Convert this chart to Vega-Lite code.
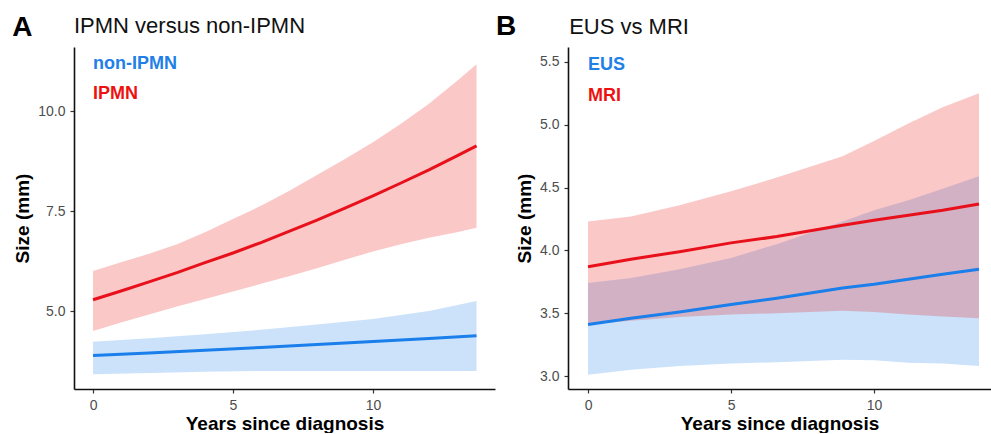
{
  "$schema": "https://vega.github.io/schema/vega-lite/v6.json",
  "autosize": {"type": "pad"},
  "padding": {"left": 12, "top": 13, "right": 0, "bottom": 0},
  "background": "white",
  "config": {
    "view": {"stroke": null},
    "font": "Liberation Sans",
    "axis": {
      "grid": false,
      "domainColor": "#111111",
      "domainWidth": 1.6,
      "tickColor": "#333333",
      "tickWidth": 1.2,
      "tickSize": 4,
      "labelColor": "#4D4D4D",
      "labelFont": "Liberation Sans",
      "labelFontSize": 14,
      "titleFont": "Liberation Sans",
      "titleFontSize": 19,
      "titleFontWeight": "bold",
      "titleColor": "#000000"
    },
    "axisX": {"labelPadding": 5, "titlePadding": 2},
    "axisY": {"labelPadding": 5, "titlePadding": 5}
  },
  "datasets": {
    "curves": [
      {"panel": "A", "group": "non-IPMN", "x": 0, "y": 3.89, "lo": 3.42, "hi": 4.23},
      {"panel": "A", "group": "non-IPMN", "x": 2, "y": 3.95, "lo": 3.45, "hi": 4.32},
      {"panel": "A", "group": "non-IPMN", "x": 4, "y": 4.02, "lo": 3.48, "hi": 4.42},
      {"panel": "A", "group": "non-IPMN", "x": 6, "y": 4.09, "lo": 3.5, "hi": 4.53},
      {"panel": "A", "group": "non-IPMN", "x": 8, "y": 4.16, "lo": 3.5, "hi": 4.66},
      {"panel": "A", "group": "non-IPMN", "x": 10, "y": 4.24, "lo": 3.5, "hi": 4.8},
      {"panel": "A", "group": "non-IPMN", "x": 12, "y": 4.31, "lo": 3.5, "hi": 5.0},
      {"panel": "A", "group": "non-IPMN", "x": 13.7, "y": 4.38, "lo": 3.5, "hi": 5.25},
      {"panel": "A", "group": "IPMN", "x": 0, "y": 5.28, "lo": 4.5, "hi": 6.0},
      {"panel": "A", "group": "IPMN", "x": 1, "y": 5.5, "lo": 4.71, "hi": 6.22},
      {"panel": "A", "group": "IPMN", "x": 2, "y": 5.73, "lo": 4.91, "hi": 6.43},
      {"panel": "A", "group": "IPMN", "x": 3, "y": 5.96, "lo": 5.11, "hi": 6.67},
      {"panel": "A", "group": "IPMN", "x": 4, "y": 6.21, "lo": 5.3, "hi": 6.97},
      {"panel": "A", "group": "IPMN", "x": 5, "y": 6.45, "lo": 5.49, "hi": 7.3},
      {"panel": "A", "group": "IPMN", "x": 6, "y": 6.71, "lo": 5.68, "hi": 7.63},
      {"panel": "A", "group": "IPMN", "x": 7, "y": 6.99, "lo": 5.87, "hi": 8.0},
      {"panel": "A", "group": "IPMN", "x": 8, "y": 7.27, "lo": 6.07, "hi": 8.4},
      {"panel": "A", "group": "IPMN", "x": 9, "y": 7.57, "lo": 6.28, "hi": 8.8},
      {"panel": "A", "group": "IPMN", "x": 10, "y": 7.88, "lo": 6.49, "hi": 9.22},
      {"panel": "A", "group": "IPMN", "x": 11, "y": 8.2, "lo": 6.67, "hi": 9.68},
      {"panel": "A", "group": "IPMN", "x": 12, "y": 8.53, "lo": 6.83, "hi": 10.18},
      {"panel": "A", "group": "IPMN", "x": 13, "y": 8.88, "lo": 6.97, "hi": 10.75},
      {"panel": "A", "group": "IPMN", "x": 13.7, "y": 9.13, "lo": 7.08, "hi": 11.17},
      {"panel": "B", "group": "EUS", "x": 0, "y": 3.41, "lo": 3.01, "hi": 3.74},
      {"panel": "B", "group": "EUS", "x": 1.5, "y": 3.46, "lo": 3.05, "hi": 3.78},
      {"panel": "B", "group": "EUS", "x": 3.2, "y": 3.51, "lo": 3.08, "hi": 3.85},
      {"panel": "B", "group": "EUS", "x": 5, "y": 3.57, "lo": 3.1, "hi": 3.94},
      {"panel": "B", "group": "EUS", "x": 6.6, "y": 3.62, "lo": 3.11, "hi": 4.05},
      {"panel": "B", "group": "EUS", "x": 8.9, "y": 3.7, "lo": 3.13, "hi": 4.23},
      {"panel": "B", "group": "EUS", "x": 10, "y": 3.73, "lo": 3.125, "hi": 4.32},
      {"panel": "B", "group": "EUS", "x": 11.2, "y": 3.77, "lo": 3.105, "hi": 4.4},
      {"panel": "B", "group": "EUS", "x": 12.4, "y": 3.81, "lo": 3.1, "hi": 4.49},
      {"panel": "B", "group": "EUS", "x": 13.67, "y": 3.85, "lo": 3.08, "hi": 4.59},
      {"panel": "B", "group": "MRI", "x": 0, "y": 3.87, "lo": 3.41, "hi": 4.23},
      {"panel": "B", "group": "MRI", "x": 1.5, "y": 3.93, "lo": 3.44, "hi": 4.27},
      {"panel": "B", "group": "MRI", "x": 3.2, "y": 3.99, "lo": 3.47, "hi": 4.36},
      {"panel": "B", "group": "MRI", "x": 5, "y": 4.06, "lo": 3.49, "hi": 4.47},
      {"panel": "B", "group": "MRI", "x": 6.6, "y": 4.11, "lo": 3.5, "hi": 4.58},
      {"panel": "B", "group": "MRI", "x": 8.9, "y": 4.2, "lo": 3.52, "hi": 4.75},
      {"panel": "B", "group": "MRI", "x": 10, "y": 4.24, "lo": 3.51, "hi": 4.87},
      {"panel": "B", "group": "MRI", "x": 11.2, "y": 4.28, "lo": 3.49, "hi": 5.01},
      {"panel": "B", "group": "MRI", "x": 12.4, "y": 4.32, "lo": 3.475, "hi": 5.14},
      {"panel": "B", "group": "MRI", "x": 13.67, "y": 4.37, "lo": 3.46, "hi": 5.25}
    ],
    "labels": [
      {"panel": "A", "kind": "legend", "group": "non-IPMN", "text": "non-IPMN", "x": 0, "y": 11.04},
      {"panel": "A", "kind": "legend", "group": "IPMN", "text": "IPMN", "x": 0, "y": 10.29},
      {"panel": "A", "kind": "letter", "group": "", "text": "A", "x": -2.89, "y": 11.875},
      {"panel": "A", "kind": "title", "group": "", "text": "IPMN versus non-IPMN", "x": -0.68, "y": 11.95},
      {"panel": "B", "kind": "legend", "group": "EUS", "text": "EUS", "x": 0, "y": 5.439},
      {"panel": "B", "kind": "legend", "group": "MRI", "text": "MRI", "x": 0, "y": 5.188},
      {"panel": "B", "kind": "letter", "group": "", "text": "B", "x": -3.22, "y": 5.714},
      {"panel": "B", "kind": "title", "group": "", "text": "EUS vs MRI", "x": -0.66, "y": 5.722}
    ]
  },
  "spacing": 73,
  "bounds": "flush",
  "hconcat": [
    {
      "width": 421,
      "height": 342,
      "encoding": {
        "x": {"field": "x", "type": "quantitative", "title": "Years since diagnosis",
              "scale": {"domain": [-0.68, 14.36], "nice": false, "zero": false},
              "axis": {"values": [0, 5, 10]}},
        "y": {"field": "y", "type": "quantitative", "title": "Size (mm)",
              "scale": {"domain": [3.05, 11.6], "nice": false, "zero": false},
              "axis": {"values": [5, 7.5, 10], "format": ".1f"}}
      },
      "layer": [
        {
          "data": {"name": "curves"},
          "transform": [{"filter": "datum.panel == 'A'"}],
          "mark": {"type": "area", "opacity": 0.23},
          "encoding": {
            "y": {"field": "lo", "type": "quantitative", "title": "Size (mm)",
                  "scale": {"domain": [3.05, 11.6], "nice": false, "zero": false},
                  "axis": {"values": [5, 7.5, 10], "format": ".1f"}},
            "y2": {"field": "hi"},
            "fill": {"field": "group", "type": "nominal", "legend": null,
                     "scale": {"domain": ["non-IPMN", "IPMN", "EUS", "MRI"], "range": ["#1F80E8", "#EE1111", "#1F80E8", "#EE1111"]}}
          }
        },
        {
          "data": {"name": "curves"},
          "transform": [{"filter": "datum.panel == 'A'"}],
          "mark": {"type": "line", "strokeWidth": 3},
          "encoding": {
            "stroke": {"field": "group", "type": "nominal", "legend": null,
                       "scale": {"domain": ["non-IPMN", "IPMN", "EUS", "MRI"], "range": ["#1A7FEA", "#E8101A", "#1A7FEA", "#E8101A"]}}
          }
        },
        {
          "data": {"name": "labels"},
          "transform": [{"filter": "datum.panel == 'A' && datum.kind == 'legend'"}],
          "mark": {"type": "text", "align": "left", "baseline": "alphabetic", "fontSize": 18, "fontWeight": "bold"},
          "encoding": {
            "text": {"field": "text"},
            "fill": {"field": "group", "type": "nominal", "legend": null,
                     "scale": {"domain": ["non-IPMN", "IPMN", "EUS", "MRI"], "range": ["#1F80E8", "#EE1111", "#1F80E8", "#EE1111"]}}
          }
        },
        {
          "data": {"name": "labels"},
          "transform": [{"filter": "datum.panel == 'A' && datum.kind == 'letter'"}],
          "mark": {"type": "text", "align": "left", "baseline": "alphabetic", "fontSize": 28, "fontWeight": "bold", "color": "#000000"},
          "encoding": {"text": {"field": "text"}}
        },
        {
          "data": {"name": "labels"},
          "transform": [{"filter": "datum.panel == 'A' && datum.kind == 'title'"}],
          "mark": {"type": "text", "align": "left", "baseline": "alphabetic", "fontSize": 22, "color": "#111111"},
          "encoding": {"text": {"field": "text"}}
        }
      ]
    },
    {
      "width": 423,
      "height": 342,
      "encoding": {
        "x": {"field": "x", "type": "quantitative", "title": "Years since diagnosis",
              "scale": {"domain": [-0.7, 14.09], "nice": false, "zero": false},
              "axis": {"values": [0, 5, 10]}},
        "y": {"field": "y", "type": "quantitative", "title": "Size (mm)",
              "scale": {"domain": [2.897, 5.619], "nice": false, "zero": false},
              "axis": {"values": [3, 3.5, 4, 4.5, 5, 5.5], "format": ".1f"}}
      },
      "layer": [
        {
          "data": {"name": "curves"},
          "transform": [{"filter": "datum.panel == 'B'"}],
          "mark": {"type": "area", "opacity": 0.23},
          "encoding": {
            "y": {"field": "lo", "type": "quantitative", "title": "Size (mm)",
                  "scale": {"domain": [2.897, 5.619], "nice": false, "zero": false},
                  "axis": {"values": [3, 3.5, 4, 4.5, 5, 5.5], "format": ".1f"}},
            "y2": {"field": "hi"},
            "fill": {"field": "group", "type": "nominal", "legend": null,
                     "scale": {"domain": ["non-IPMN", "IPMN", "EUS", "MRI"], "range": ["#1F80E8", "#EE1111", "#1F80E8", "#EE1111"]}}
          }
        },
        {
          "data": {"name": "curves"},
          "transform": [{"filter": "datum.panel == 'B'"}],
          "mark": {"type": "line", "strokeWidth": 3},
          "encoding": {
            "stroke": {"field": "group", "type": "nominal", "legend": null,
                       "scale": {"domain": ["non-IPMN", "IPMN", "EUS", "MRI"], "range": ["#1A7FEA", "#E8101A", "#1A7FEA", "#E8101A"]}}
          }
        },
        {
          "data": {"name": "labels"},
          "transform": [{"filter": "datum.panel == 'B' && datum.kind == 'legend'"}],
          "mark": {"type": "text", "align": "left", "baseline": "alphabetic", "fontSize": 18, "fontWeight": "bold"},
          "encoding": {
            "text": {"field": "text"},
            "fill": {"field": "group", "type": "nominal", "legend": null,
                     "scale": {"domain": ["non-IPMN", "IPMN", "EUS", "MRI"], "range": ["#1F80E8", "#EE1111", "#1F80E8", "#EE1111"]}}
          }
        },
        {
          "data": {"name": "labels"},
          "transform": [{"filter": "datum.panel == 'B' && datum.kind == 'letter'"}],
          "mark": {"type": "text", "align": "left", "baseline": "alphabetic", "fontSize": 28, "fontWeight": "bold", "color": "#000000"},
          "encoding": {"text": {"field": "text"}}
        },
        {
          "data": {"name": "labels"},
          "transform": [{"filter": "datum.panel == 'B' && datum.kind == 'title'"}],
          "mark": {"type": "text", "align": "left", "baseline": "alphabetic", "fontSize": 22, "color": "#111111"},
          "encoding": {"text": {"field": "text"}}
        }
      ]
    }
  ]
}
